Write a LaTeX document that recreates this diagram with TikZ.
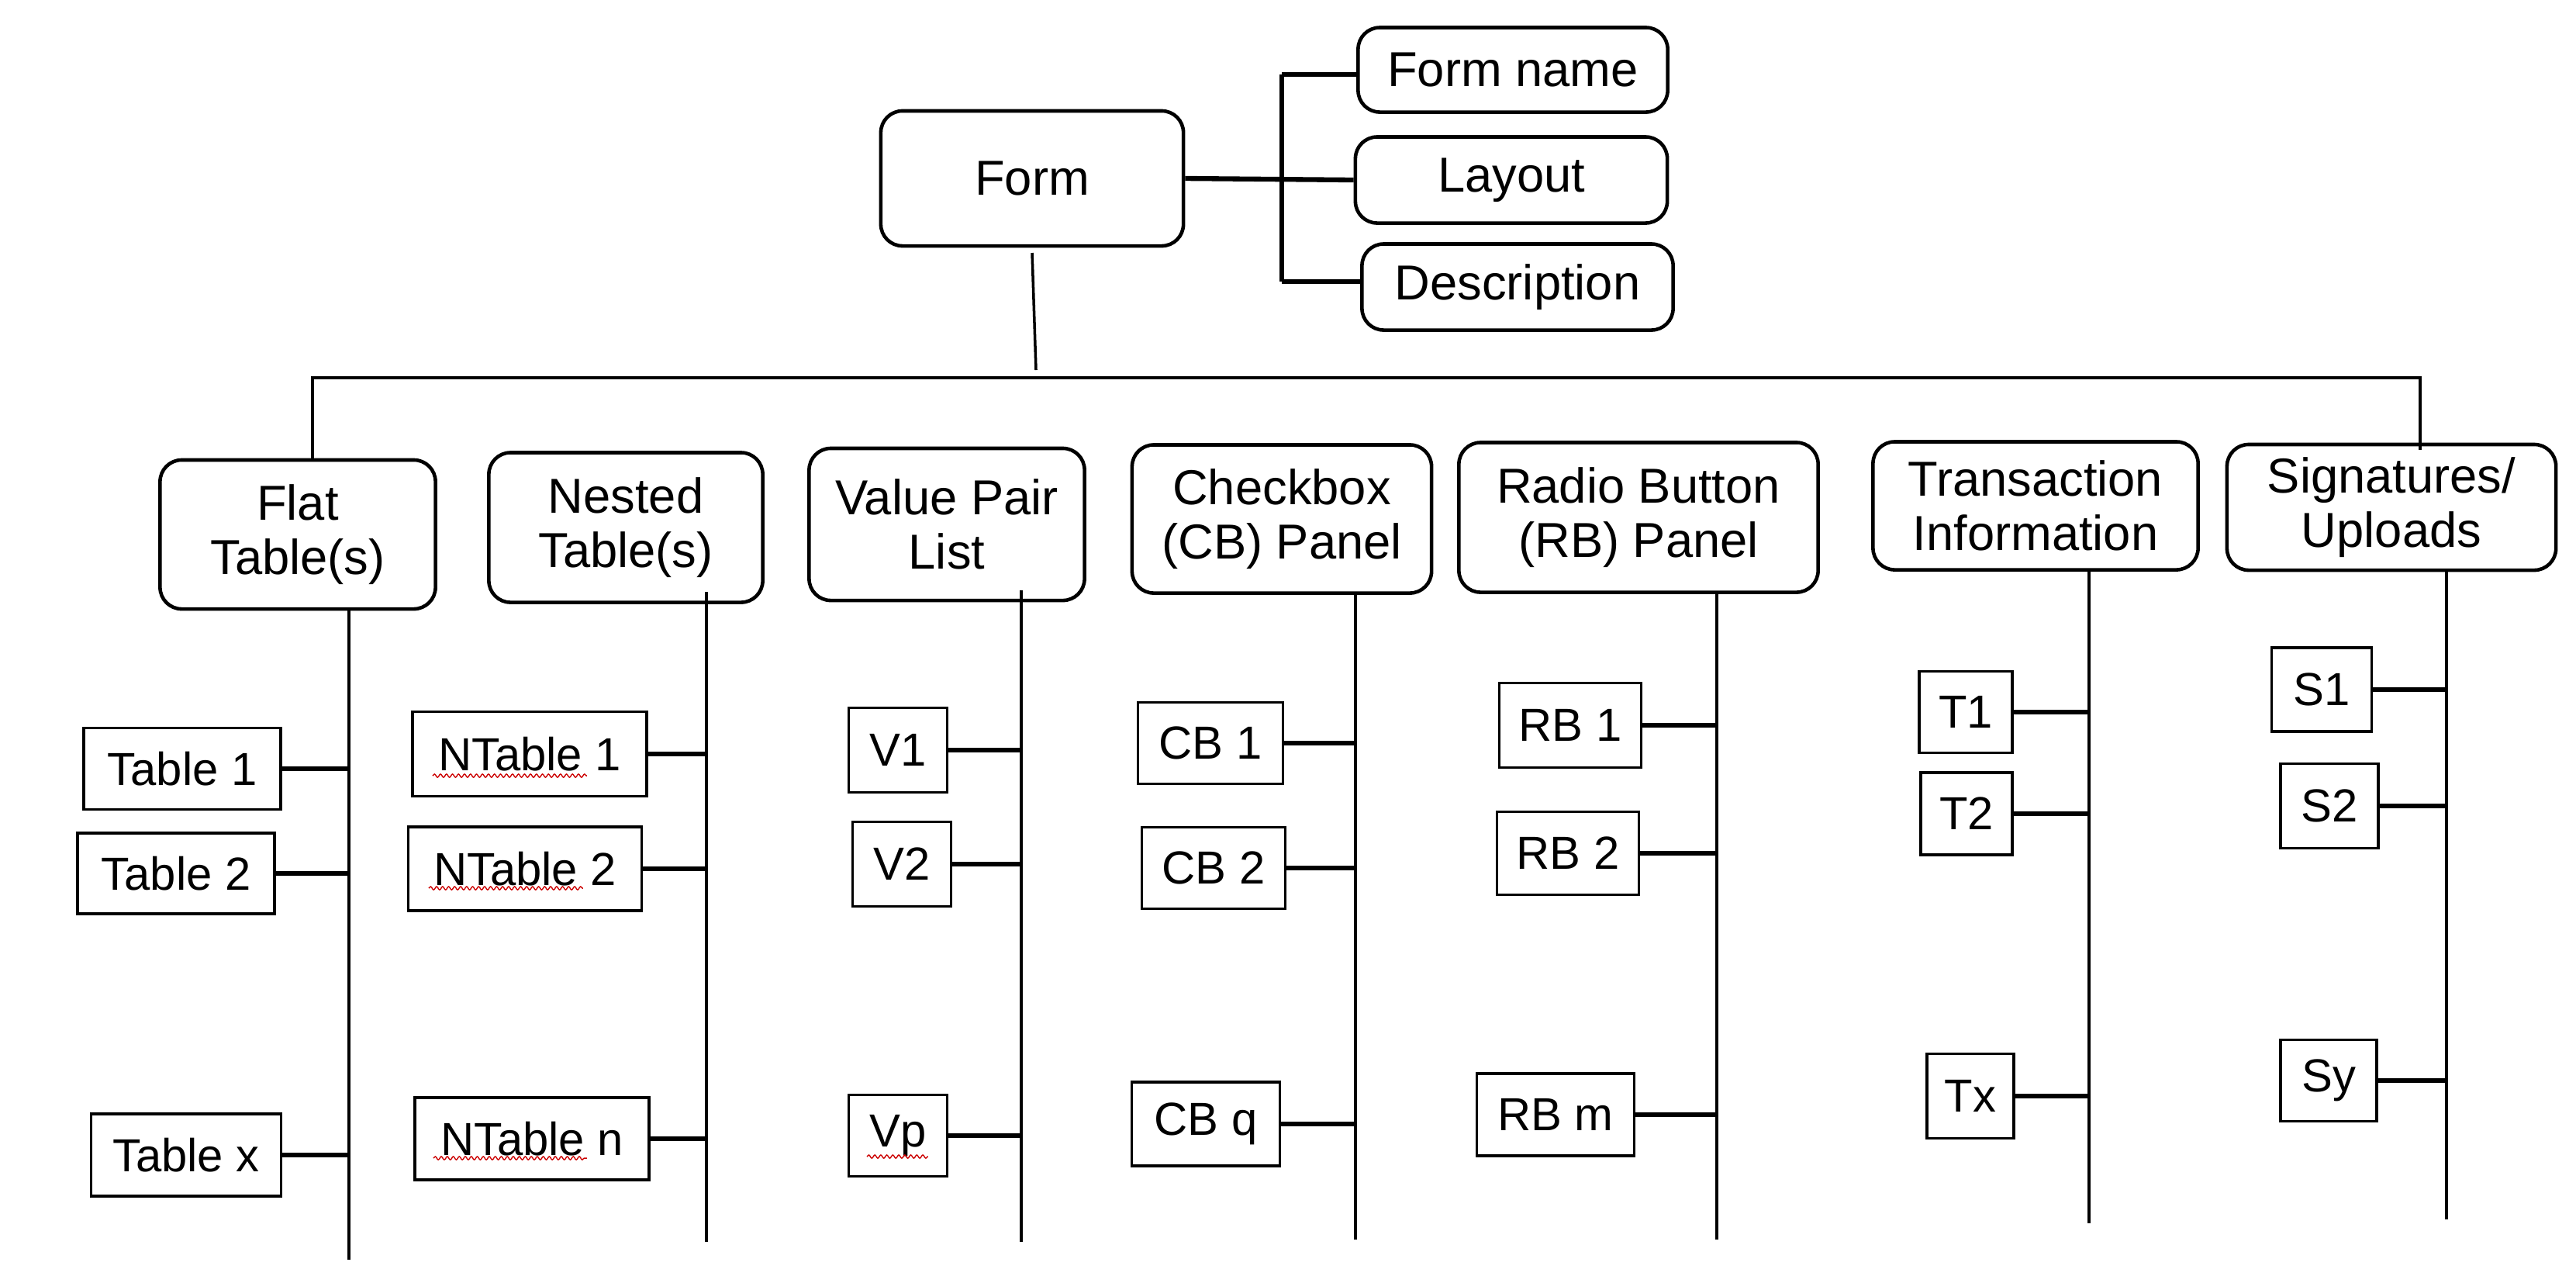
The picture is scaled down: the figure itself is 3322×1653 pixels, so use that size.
\documentclass[tikz,border=0pt]{standalone}
\usepackage{fontspec}
\setmainfont{Liberation Sans}
\usetikzlibrary{decorations.pathmorphing}
\begin{document}
\begin{tikzpicture}[x=0.01cm,y=-0.01cm,
  main/.style={draw,line width=1.3pt,rounded corners=0.28cm,align=center,inner sep=0pt,font=\fontsize{18}{20}\selectfont},
  leaf/.style={draw,line width=1pt,inner sep=0pt,font=\fontsize{17}{19}\selectfont},
  ln/.style={line width=1pt},
  cn/.style={line width=1.8pt},
  squig/.style={red!80!black,line width=0.4pt,decorate,decoration={snake,amplitude=0.6pt,segment length=2.2pt}}]
\useasboundingbox (0,0) rectangle (3322,1653);
% top
\node[main,minimum width=3.9cm,minimum height=1.74cm] (form) at (1331,230) {Form};
\node[main,minimum width=3.99cm,minimum height=1.09cm] (fname) at (1951,90) {Form name};
\node[main,minimum width=4.02cm,minimum height=1.11cm] (layout) at (1949,232) {Layout};
\node[main,minimum width=4.01cm,minimum height=1.11cm] (desc) at (1957,370) {Description};
\coordinate (br1) at (1653,96);
\coordinate (br2) at (1653,230);
\coordinate (br3) at (1653,363);
\draw[cn] (form.east) -- (layout.west);
\draw[cn] (br1) -- (br3);
\draw[cn] (br1) -- (fname.west |- br1);
\draw[cn] (br3) -- (desc.west |- br3);
% categories
\node[main,minimum width=3.55cm,minimum height=1.92cm] (flat) at (384,689) {Flat\\Table(s)};
\node[main,minimum width=3.53cm,minimum height=1.93cm] (nest) at (807,680) {Nested\\Table(s)};
\node[main,minimum width=3.55cm,minimum height=1.96cm] (val) at (1221,676) {Value Pair\\List};
\node[main,minimum width=3.86cm,minimum height=1.91cm] (cb) at (1653,669) {Checkbox\\(CB) Panel};
\node[main,minimum width=4.63cm,minimum height=1.93cm] (rb) at (2113,667) {Radio Button\\(RB) Panel};
\node[main,minimum width=4.19cm,minimum height=1.65cm] (tr) at (2625,652) {Transaction\\Information};
\node[main,minimum width=4.24cm,minimum height=1.62cm] (sg) at (3084,654) {Signatures/\\Uploads};
\coordinate (fd) at (1336,477);
\coordinate (hl) at (403,487);
\coordinate (hr) at (3121,487);
\draw[ln] (form.south |- 0,326) -- (fd);
\draw[ln] (403,593) -- (hl) -- (hr) -- (3121,580);
% trunks
\coordinate (tf) at (450,1624);
\coordinate (tn) at (911,1601);
\coordinate (tv) at (1317,1601);
\coordinate (tc) at (1748,1598);
\coordinate (trb) at (2214,1598);
\coordinate (tt) at (2694,1577);
\coordinate (ts) at (3155,1572);
\draw[ln] (tf |- flat.south) -- (tf);
\draw[ln] (911,763) -- (tn);
\draw[ln] (1317,761) -- (tv);
\draw[ln] (tc |- cb.south) -- (tc);
\draw[ln] (trb |- rb.south) -- (trb);
\draw[ln] (tt |- tr.south) -- (tt);
\draw[ln] (ts |- sg.south) -- (ts);
% leaves
\node[leaf,minimum width=2.54cm,minimum height=1.05cm] (t1) at (235,991) {Table 1};
\node[leaf,minimum width=2.54cm,minimum height=1.04cm] (t2) at (227,1126) {Table 2};
\node[leaf,minimum width=2.45cm,minimum height=1.06cm] (tx) at (240,1489) {Table x};
\node[leaf,minimum width=3.02cm,minimum height=1.09cm] (n1) at (683,972) {NTable 1};
\node[leaf,minimum width=3.01cm,minimum height=1.08cm] (n2) at (677,1120) {NTable 2};
\node[leaf,minimum width=3.02cm,minimum height=1.06cm] (nn) at (686,1468) {NTable n};
\node[leaf,minimum width=1.27cm,minimum height=1.09cm] (v1) at (1158,967) {V1};
\node[leaf,minimum width=1.27cm,minimum height=1.09cm] (v2) at (1163,1114) {V2};
\node[leaf,minimum width=1.27cm,minimum height=1.05cm] (vp) at (1158,1464) {Vp};
\node[leaf,minimum width=1.87cm,minimum height=1.05cm] (c1) at (1561,958) {CB 1};
\node[leaf,minimum width=1.85cm,minimum height=1.05cm] (c2) at (1565,1119) {CB 2};
\node[leaf,minimum width=1.91cm,minimum height=1.08cm] (cq) at (1555,1449) {CB q};
\node[leaf,minimum width=1.83cm,minimum height=1.09cm] (r1) at (2025,935) {RB 1};
\node[leaf,minimum width=1.83cm,minimum height=1.07cm] (r2) at (2022,1100) {RB 2};
\node[leaf,minimum width=2.03cm,minimum height=1.06cm] (rm) at (2006,1437) {RB m};
\node[leaf,minimum width=1.2cm,minimum height=1.05cm] (x1) at (2535,918) {T1};
\node[leaf,minimum width=1.18cm,minimum height=1.06cm] (x2) at (2536,1049) {T2};
\node[leaf,minimum width=1.12cm,minimum height=1.09cm] (xx) at (2541,1413) {Tx};
\node[leaf,minimum width=1.29cm,minimum height=1.08cm] (s1) at (2994,889) {S1};
\node[leaf,minimum width=1.26cm,minimum height=1.09cm] (s2) at (3004,1039) {S2};
\node[leaf,minimum width=1.24cm,minimum height=1.05cm] (sy) at (3003,1393) {Sy};
% connectors
\foreach \n/\t in {t1/tf,t2/tf,tx/tf,n1/tn,n2/tn,nn/tn,v1/tv,v2/tv,vp/tv,c1/tc,c2/tc,cq/tc,r1/trb,r2/trb,rm/trb,x1/tt,x2/tt,xx/tt,s1/ts,s2/ts,sy/ts}
  \draw[cn] (\n.east) -- (\n.east -| \t);
% spelling marks
\draw[squig] ([xshift=-1.25cm,yshift=-0.28cm]n1.center) -- ++(199,0);
\draw[squig] ([xshift=-1.24cm,yshift=-0.25cm]n2.center) -- ++(199,0);
\draw[squig] ([xshift=-1.27cm,yshift=-0.25cm]nn.center) -- ++(198,0);
\draw[squig] ([xshift=-0.4cm,yshift=-0.27cm]vp.center) -- ++(79,0);
\end{tikzpicture}
\end{document}
